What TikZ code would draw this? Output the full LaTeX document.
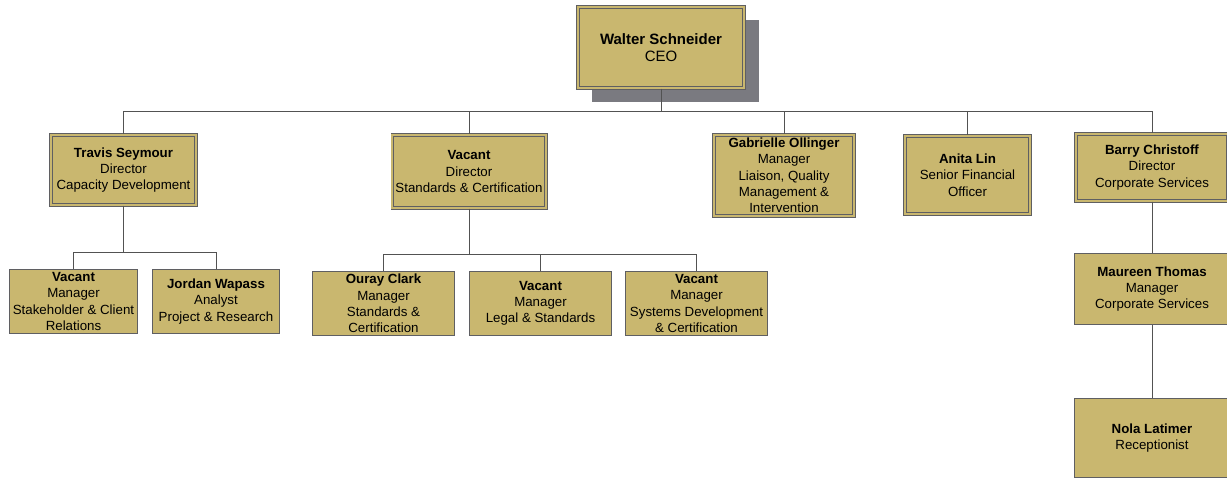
\documentclass[tikz,border=0pt]{standalone}
\usepackage{fontspec}
\setmainfont{Liberation Sans}
\usetikzlibrary{positioning,shadows}

\definecolor{boxfill}{RGB}{201,183,111}
\definecolor{boxline}{RGB}{95,95,98}
\definecolor{shadowgray}{RGB}{122,122,128}

\begin{document}
\begin{tikzpicture}[
        x=1pt,
        y=-1pt,
        unit/.style={
            draw=boxline,
            fill=boxfill,
            align=center,
            inner sep=1pt,
            font=\fontsize{13.3}{16.3}\selectfont
        },
        head/.style={
            unit,
            line width=0.7pt,
            double=boxfill,
            double distance=2.2pt
        },
        staff/.style={
            unit,
            line width=0.9pt
        },
        link/.style={
            draw=black!68,
            line width=0.8pt
        }
    ]

    \useasboundingbox (0,0) rectangle (1227,479);

    % Chief executive
    \node[head, minimum width=166.4pt, minimum height=81.4pt,
        font=\fontsize{15}{17.5}\selectfont,
        drop shadow={shadow xshift=14.5pt, shadow yshift=-13.5pt,
            fill=shadowgray, opacity=1}]
        (ceo) at (661,47.5) {\textbf{Walter Schneider}\\CEO};

    % Directors and direct reports
    \node[head, minimum width=145.4pt, minimum height=70.4pt]
        (travis) at (123.5,170) {\textbf{Travis Seymour}\\Director\\Capacity Development};
    \node[head, minimum width=153.4pt, minimum height=73.4pt]
        (vacdir) at (469,171.5) {\textbf{Vacant}\\Director\\Standards \& Certification};
    \node[head, minimum width=140.4pt, minimum height=81.4pt]
        (gabrielle) at (784,175.5) {\textbf{Gabrielle Ollinger}\\Manager\\Liaison, Quality\\Management \&\\Intervention};
    \node[head, minimum width=125.4pt, minimum height=78.4pt]
        (anita) at (967.5,175) {\textbf{Anita Lin}\\Senior Financial\\Officer};
    \node[head, minimum width=152.4pt, minimum height=67.4pt]
        (barry) at (1152,167.5) {\textbf{Barry Christoff}\\Director\\Corporate Services};

    % Capacity development staff
    \node[staff, minimum width=128pt, minimum height=64pt]
        (vacsh) at (73.5,301.5) {\textbf{Vacant}\\Manager\\Stakeholder \& Client\\Relations};
    \node[staff, minimum width=127pt, minimum height=64pt]
        (jordan) at (216,301.5) {\textbf{Jordan Wapass}\\Analyst\\Project \& Research};

    % Standards and certification staff
    \node[staff, minimum width=142pt, minimum height=64pt]
        (ouray) at (383.5,303.5) {\textbf{Ouray Clark}\\Manager\\Standards \&\\Certification};
    \node[staff, minimum width=142pt, minimum height=64pt]
        (vaclegal) at (540.5,303.5) {\textbf{Vacant}\\Manager\\Legal \& Standards};
    \node[staff, minimum width=142pt, minimum height=64pt]
        (vacsys) at (696.5,303.5) {\textbf{Vacant}\\Manager\\Systems Development\\\& Certification};

    % Corporate services staff
    \node[staff, minimum width=155pt, minimum height=71pt]
        (maureen) at (1152,289) {\textbf{Maureen Thomas}\\Manager\\Corporate Services};
    \node[staff, minimum width=155pt, minimum height=79pt]
        (nola) at (1152,438) {\textbf{Nola Latimer}\\Receptionist};

    % Bus junctions
    \coordinate (topbus) at (661,111);
    \coordinate (capbus) at (123.5,252);
    \coordinate (stdbus) at (469,254);

    % Reporting lines
    \draw[link] (ceo.south) -- (topbus);
    \foreach \n in {travis,vacdir,gabrielle,anita,barry}
        \draw[link] (topbus) -| (\n.north);

    \draw[link] (travis.south) -- (capbus);
    \foreach \n in {vacsh,jordan}
        \draw[link] (capbus) -| (\n.north);

    \draw[link] (vacdir.south) -- (stdbus);
    \foreach \n in {ouray,vaclegal,vacsys}
        \draw[link] (stdbus) -| (\n.north);

    \draw[link] (barry.south) -- (maureen.north);
    \draw[link] (maureen.south) -- (nola.north);

\end{tikzpicture}
\end{document}
